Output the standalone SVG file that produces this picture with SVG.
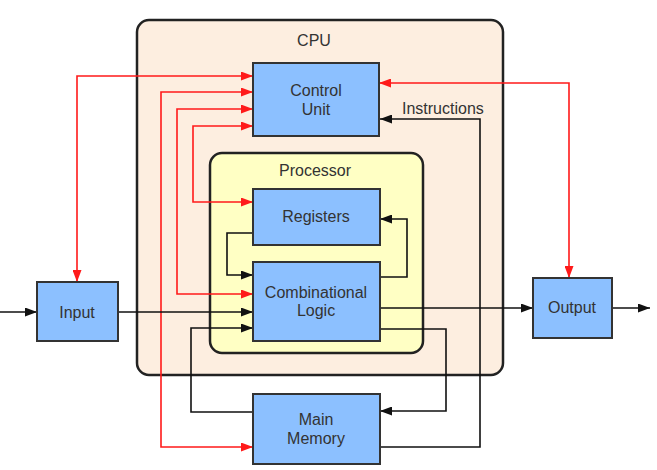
<svg xmlns="http://www.w3.org/2000/svg" width="657" height="470" viewBox="0 0 657 470">
<defs>
<marker id="ab" viewBox="0 0 12 9" refX="12" refY="4.5" markerWidth="12" markerHeight="9" markerUnits="userSpaceOnUse" orient="auto-start-reverse"><path d="M0,0 L12,4.5 L0,9 z" fill="#111"/></marker>
<marker id="ar" viewBox="0 0 12 9" refX="12" refY="4.5" markerWidth="12" markerHeight="9" markerUnits="userSpaceOnUse" orient="auto-start-reverse"><path d="M0,0 L12,4.5 L0,9 z" fill="#ff1a1a"/></marker>
<style>
text{font-family:"Liberation Sans",Arial,sans-serif;font-size:16px;fill:#333;text-anchor:middle}
.box{fill:#8cc0ff;stroke:#333;stroke-width:2}
.blk{fill:none;stroke:#111;stroke-width:1.6;marker-end:url(#ab)}
.red{fill:none;stroke:#ff1a1a;stroke-width:1.6;marker-start:url(#ar);marker-end:url(#ar)}
</style>
</defs>
<g id="cpu">
<rect x="137" y="20" width="366" height="355" rx="12" fill="#fdeee0" stroke="#222" stroke-width="2.5"/>
<text x="314" y="46">CPU</text>
</g>
<g id="processor">
<rect x="210" y="153" width="213" height="200" rx="12" fill="#ffffc4" stroke="#222" stroke-width="2.5"/>
<text x="315" y="176">Processor</text>
</g>
<g id="connectors">
<path class="red" d="M253,76 H77 V282"/>
<path class="red" d="M253,92 H161 V447 H253"/>
<path class="red" d="M253,109 H177 V294 H253"/>
<path class="red" d="M253,126 H193 V202 H253"/>
<path class="red" d="M379,83 H569 V278"/>
<path class="blk" d="M0,312 H37"/>
<path class="blk" d="M118,312 H253"/>
<path class="blk" d="M380,308 H533"/>
<path class="blk" d="M612,308 H650"/>
<path class="blk" d="M253,233 H227 V275 H253"/>
<path class="blk" d="M380,277 H407 V219 H380"/>
<path class="blk" d="M253,412 H191 V328 H253"/>
<path class="blk" d="M380,329 H446 V411 H380"/>
<path class="blk" d="M380,447 H480 V119 H380"/>
<text x="402" y="114" style="text-anchor:start">Instructions</text>
</g>
<g id="control-unit">
<rect class="box" x="253" y="63" width="126" height="73"/>
<text x="316" y="96">Control</text>
<text x="316" y="115">Unit</text>
</g>
<g id="registers">
<rect class="box" x="253" y="189" width="127" height="56"/>
<text x="316" y="222">Registers</text>
</g>
<g id="combinational-logic">
<rect class="box" x="253" y="262" width="127" height="79"/>
<text x="316" y="298">Combinational</text>
<text x="316" y="316">Logic</text>
</g>
<g id="input">
<rect class="box" x="37" y="282" width="81" height="59"/>
<text x="77" y="318">Input</text>
</g>
<g id="output">
<rect class="box" x="533" y="278" width="79" height="60"/>
<text x="572" y="313">Output</text>
</g>
<g id="main-memory">
<rect class="box" x="253" y="394" width="127" height="70"/>
<text x="316" y="425">Main</text>
<text x="316" y="444">Memory</text>
</g>
</svg>
